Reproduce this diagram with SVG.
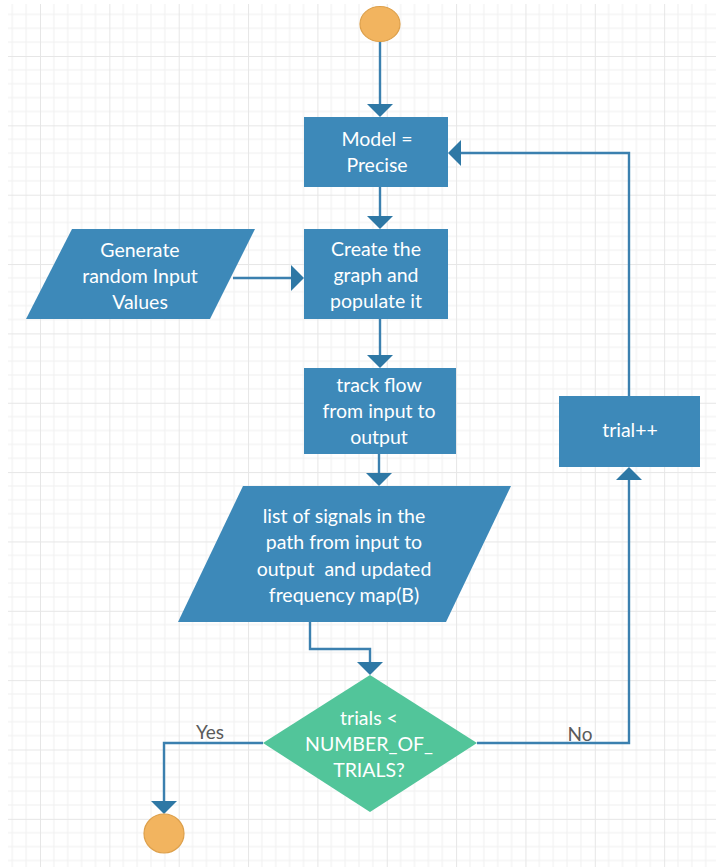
<svg xmlns="http://www.w3.org/2000/svg" width="716" height="867" viewBox="0 0 716 867">
  <style>
    .box { fill: #3D89B9; }
    .dec { fill: #52C59A; }
    .term { fill: #F2B45F; stroke: #DDA04B; stroke-width: 1.2; }
    .t { font-family: Lato, "Open Sans", sans-serif; font-size: 19.5px; fill: #ffffff; text-anchor: middle; }
    .lbl { font-family: Lato, "Open Sans", sans-serif; font-size: 19px; fill: #5a5a5a; text-anchor: middle; }
    .conn { fill: none; stroke: #3B80AF; stroke-width: 2.4; }
  </style>
  <defs>
    <pattern id="grid" patternUnits="userSpaceOnUse" x="40" y="56" width="69.35" height="69.35">
      <g stroke="#efefef" stroke-width="1">
        <line x1="13.87" y1="0" x2="13.87" y2="69.35"/>
        <line x1="27.74" y1="0" x2="27.74" y2="69.35"/>
        <line x1="41.61" y1="0" x2="41.61" y2="69.35"/>
        <line x1="55.48" y1="0" x2="55.48" y2="69.35"/>
        <line x1="0" y1="13.87" x2="69.35" y2="13.87"/>
        <line x1="0" y1="27.74" x2="69.35" y2="27.74"/>
        <line x1="0" y1="41.61" x2="69.35" y2="41.61"/>
        <line x1="0" y1="55.48" x2="69.35" y2="55.48"/>
      </g>
      <g stroke="#e6e6e6" stroke-width="1">
        <line x1="0.5" y1="0" x2="0.5" y2="69.35"/>
        <line x1="0" y1="0.5" x2="69.35" y2="0.5"/>
      </g>
    </pattern>
    <marker id="arr" viewBox="0 0 13 26" refX="11" refY="13" markerWidth="13" markerHeight="26" markerUnits="userSpaceOnUse" orient="auto">
      <path d="M0,0 L13,13 L0,26 Z" fill="#2E78A5"/>
    </marker>
  </defs>

  <rect x="0" y="0" width="716" height="867" fill="#ffffff"/>
  <rect x="8" y="4" width="708" height="863" fill="url(#grid)"/>

  <g id="connectors">
    <path class="conn" d="M380,41 V115" marker-end="url(#arr)"/>
    <path class="conn" d="M380,187 V227" marker-end="url(#arr)"/>
    <path class="conn" d="M233,278 H302" marker-end="url(#arr)"/>
    <path class="conn" d="M380,319 V366" marker-end="url(#arr)"/>
    <path class="conn" d="M379,454 V484" marker-end="url(#arr)"/>
    <path class="conn" d="M310,622 V649 H370 V673" marker-end="url(#arr)"/>
    <path class="conn" d="M263,743 H164 V812" marker-end="url(#arr)"/>
    <path class="conn" d="M477,743 H629 V469" marker-end="url(#arr)"/>
    <path class="conn" d="M629,396 V153 H450" marker-end="url(#arr)"/>
    <text class="lbl" x="210" y="739">Yes</text>
    <text class="lbl" x="580" y="741">No</text>
  </g>

  <g id="start">
    <ellipse class="term" cx="380" cy="24" rx="20" ry="17.5"/>
  </g>

  <g id="model">
    <rect class="box" x="304" y="117" width="144" height="70"/>
    <text class="t" x="377" y="146">Model =</text>
    <text class="t" x="377" y="172">Precise</text>
  </g>

  <g id="generate">
    <polygon class="box" points="72,229 255,229 210,319 26,319"/>
    <text class="t" x="140" y="257">Generate</text>
    <text class="t" x="140" y="283">random Input</text>
    <text class="t" x="140" y="309">Values</text>
  </g>

  <g id="create">
    <rect class="box" x="304" y="229" width="144" height="90"/>
    <text class="t" x="376" y="256">Create the</text>
    <text class="t" x="376" y="282">graph and</text>
    <text class="t" x="376" y="308">populate it</text>
  </g>

  <g id="track">
    <rect class="box" x="304" y="368" width="152" height="86"/>
    <text class="t" x="379" y="392">track flow</text>
    <text class="t" x="379" y="418">from input to</text>
    <text class="t" x="379" y="444">output</text>
  </g>

  <g id="list">
    <polygon class="box" points="243,486 511,486 446,622 178,622"/>
    <text class="t" x="344" y="523">list of signals in the</text>
    <text class="t" x="344" y="549">path from input to</text>
    <text class="t" x="344" y="576" xml:space="preserve">output  and updated</text>
    <text class="t" x="344" y="602">frequency map(B)</text>
  </g>

  <g id="decision">
    <polygon class="dec" points="370,675 477,743 370,812 263,743"/>
    <text class="t" x="369" y="725">trials &lt;</text>
    <text class="t" x="369" y="751">NUMBER_OF_</text>
    <text class="t" x="369" y="777">TRIALS?</text>
  </g>

  <g id="trial">
    <rect class="box" x="559" y="396" width="141" height="71"/>
    <text class="t" x="630" y="437">trial++</text>
  </g>

  <g id="end">
    <ellipse class="term" cx="164" cy="833.5" rx="20" ry="19.5"/>
  </g>
</svg>
